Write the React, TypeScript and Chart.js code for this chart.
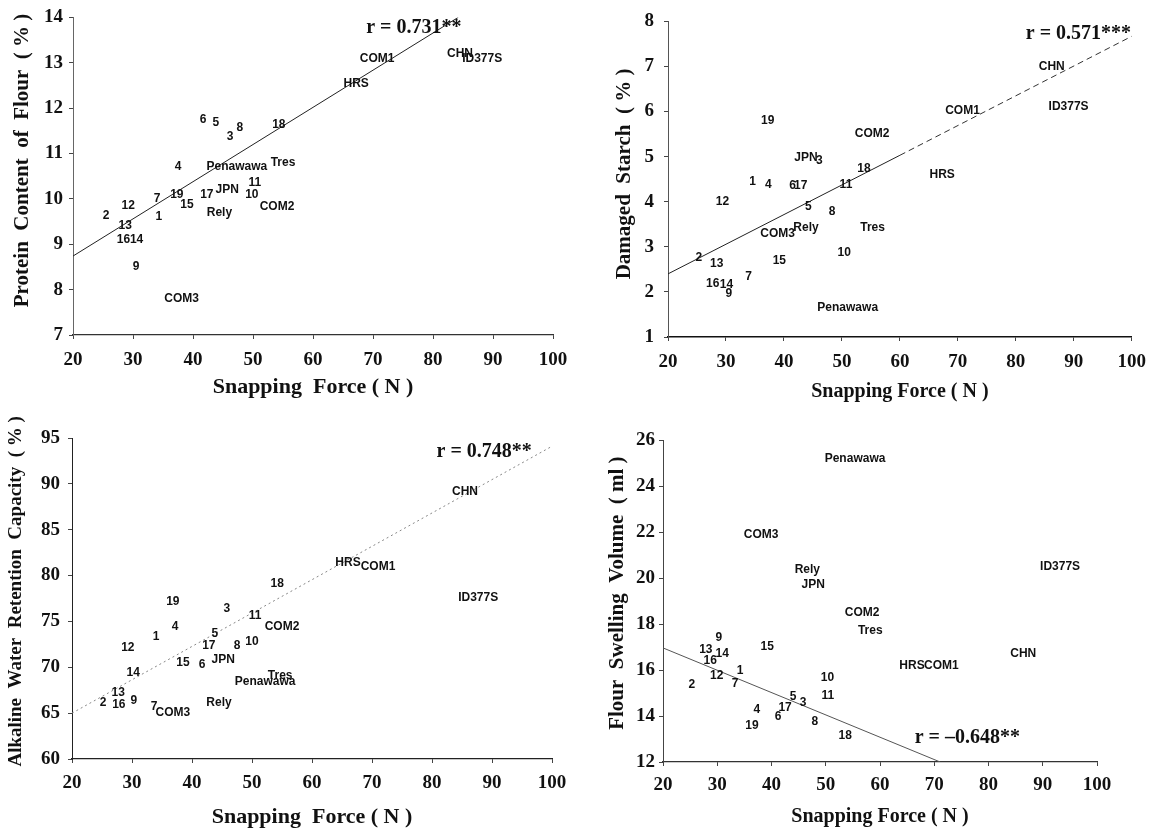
import React, { useEffect, useRef } from 'react';
import { Chart, registerables } from 'chart.js';

Chart.register(...registerables);

// ---------- data ----------
const cultivars = [
  '1', '2', '3', '4', '5', '6', '7', '8', '9', '10', '11', '12', '13', '14', '15', '16', '17', '18', '19',
  'COM1', 'COM2', 'COM3', 'CHN', 'ID377S', 'HRS', 'JPN', 'Rely', 'Tres', 'Penawawa',
];

const proteinForce = [34.3, 25.5, 46.2, 37.5, 43.8, 41.7, 34.0, 47.8, 30.5, 49.8, 50.3, 29.2, 28.7, 30.6, 39.0, 28.4, 42.3, 54.3, 37.3,
  70.7, 54.0, 38.1, 84.5, 88.2, 67.2, 45.7, 44.4, 55.0, 47.3];
const proteinValue = [9.6, 9.62, 11.36, 10.7, 11.67, 11.75, 10.0, 11.56, 8.5, 10.1, 10.35, 9.86, 9.4, 9.09, 9.88, 9.11, 10.1, 11.64, 10.1,
  13.1, 9.82, 7.8, 13.2, 13.1, 12.55, 10.2, 9.7, 10.8, 10.7];

const starchForce = [34.6, 25.3, 46.1, 37.3, 44.2, 41.5, 33.9, 48.3, 30.5, 50.4, 50.7, 29.4, 28.4, 30.1, 39.2, 27.7, 42.9, 53.8, 37.2,
  70.8, 55.2, 38.9, 86.2, 89.1, 67.3, 43.8, 43.8, 55.3, 51.0];
const starchValue = [4.44, 2.75, 4.9, 4.37, 3.89, 4.35, 2.33, 3.78, 1.96, 2.86, 4.37, 4.0, 2.62, 2.16, 2.7, 2.18, 4.35, 4.74, 5.79,
  6.03, 5.51, 3.3, 7.0, 6.1, 4.61, 4.98, 3.43, 3.43, 1.66];

const awrcForce = [34.0, 25.2, 45.8, 37.2, 43.8, 41.7, 33.7, 47.5, 30.3, 50.0, 50.5, 29.3, 27.7, 30.2, 38.5, 27.8, 42.8, 54.2, 36.8,
  71.0, 55.0, 36.8, 85.5, 87.7, 66.0, 45.2, 44.5, 54.7, 52.2];
const awrcValue = [73.3, 66.1, 76.4, 74.4, 73.7, 70.3, 65.7, 72.4, 66.4, 72.8, 75.6, 72.1, 67.2, 69.4, 70.5, 65.9, 72.4, 79.1, 77.1,
  81.0, 74.4, 65.1, 89.1, 77.6, 81.4, 70.8, 66.1, 69.1, 68.4];

const swellingForce = [34.2, 25.3, 45.8, 37.3, 44.0, 41.2, 33.3, 48.0, 30.3, 50.3, 50.4, 29.9, 27.9, 30.9, 39.2, 28.7, 42.5, 53.6, 36.4,
  71.3, 56.7, 38.1, 86.4, 93.2, 65.9, 47.7, 46.6, 58.2, 55.4];
const swellingValue = [15.96, 15.35, 14.57, 14.26, 14.83, 13.96, 15.4, 13.74, 17.4, 15.65, 14.87, 15.74, 16.9, 16.7, 17.0, 16.4, 14.35, 13.13, 13.57,
  16.2, 18.5, 21.9, 16.7, 20.5, 16.2, 19.7, 20.35, 17.7, 25.2];

// regression lines (end points)
const proteinFitX = [20, 84.2];
const proteinFitY = [8.74, 14.0];
const starchFitX = [20, 60, 100];
const starchFitY = [2.4, 5.03, 7.67];
const awrcFitX = [20, 100];
const awrcFitY = [65.0, 94.1];
const swellingFitX = [20, 71.1];
const swellingFitY = [16.96, 12.0];

const rTexts = ['r = 0.731**', 'r = 0.571***', 'r = 0.748**', 'r = \u20130.648**'];

// tick labels
const forceTicks = [20, 30, 40, 50, 60, 70, 80, 90, 100];
const proteinTicks = [7, 8, 9, 10, 11, 12, 13, 14];
const starchTicks = [1, 2, 3, 4, 5, 6, 7, 8];
const awrcTicks = [60, 65, 70, 75, 80, 85, 90, 95];
const swellingTicks = [12, 14, 16, 18, 20, 22, 24, 26];

// ---------- rendering ----------
const SERIF = '"Liberation Serif", "Times New Roman", serif';
const SANS = '"Liberation Sans", Arial, sans-serif';

const labelPlugin = {
  id: 'pointNames',
  afterDatasetsDraw(chart: any) {
    const ctx = chart.ctx;
    ctx.save();
    ctx.font = `bold 12px ${SANS}`;
    ctx.fillStyle = '#111';
    ctx.textAlign = 'center';
    ctx.textBaseline = 'middle';
    chart.data.datasets.forEach((ds: any, i: number) => {
      if (!ds.names) return;
      const meta = chart.getDatasetMeta(i);
      meta.data.forEach((el: any, j: number) => {
        ctx.fillText(ds.names[j], el.x, el.y);
      });
    });
    const note = chart.options.plugins.panelNote;
    if (note && note.text) {
      const px = chart.scales.x.getPixelForValue(note.x);
      const py = chart.scales.y.getPixelForValue(note.y);
      ctx.font = `bold 20px ${SERIF}`;
      ctx.fillText(note.text, px, py);
    }
    ctx.restore();
  },
};

type Fit = { x: number[]; y: number[]; color: string; width: number; dash: number[] };

type PanelCfg = {
  left: number; top: number; width: number; height: number;
  yAxisWidth: number; xAxisHeight: number; padTop: number; padRight: number;
  xs: number[]; ys: number[]; fits: Fit[];
  yMin: number; yMax: number; yTicks: number[];
  yTitle: string; yTitleSize: number; yTitlePad: number; yTickPad: number;
  xTitle: string; xTitleSize: number;
  xTickPad: number; xTitlePad: number;
  note: { x: number; y: number; text: string };
  xBorder: { color: string; width: number; dash: number[] };
  yBorder: { color: string; width: number; dash: number[] };
};

function Panel({ cfg }: { cfg: PanelCfg }) {
  const ref = useRef<HTMLCanvasElement | null>(null);
  useEffect(() => {
    if (!ref.current) return;
    const tickFont = { family: SERIF, size: 19, weight: 'bold' as const };
    const chart = new Chart(ref.current, {
      type: 'scatter',
      data: {
        datasets: [
          {
            data: cfg.xs.map((x, i) => ({ x, y: cfg.ys[i] })),
            pointRadius: 0,
            pointHoverRadius: 0,
            showLine: false,
            names: cultivars,
          } as any,
          ...cfg.fits.map((f) => ({
            data: f.x.map((x, i) => ({ x, y: f.y[i] })),
            showLine: true,
            borderColor: f.color,
            borderWidth: f.width,
            borderDash: f.dash,
            pointRadius: 0,
            pointHoverRadius: 0,
            fill: false,
          })),
        ],
      },
      options: {
        responsive: false,
        animation: false,
        events: [],
        layout: { padding: { top: cfg.padTop, right: cfg.padRight, left: 0, bottom: 0 } },
        plugins: {
          legend: { display: false },
          tooltip: { enabled: false },
          panelNote: cfg.note,
        } as any,
        scales: {
          x: {
            type: 'linear',
            min: 20,
            max: 100,
            afterBuildTicks: (s: any) => { s.ticks = forceTicks.map((v) => ({ value: v })); },
            afterFit: (s: any) => { s.height = cfg.xAxisHeight; },
            border: { display: true, color: cfg.xBorder.color, width: cfg.xBorder.width, dash: cfg.xBorder.dash },
            grid: { display: true, drawOnChartArea: false, drawTicks: true, tickLength: 4, color: '#444' },
            ticks: { font: tickFont, color: '#111', padding: cfg.xTickPad, maxRotation: 0, autoSkip: false },
            title: {
              display: true,
              text: cfg.xTitle,
              font: { family: SERIF, size: cfg.xTitleSize, weight: 'bold' },
              color: '#111',
              padding: { top: 0, bottom: cfg.xTitlePad },
            },
          },
          y: {
            type: 'linear',
            min: cfg.yMin,
            max: cfg.yMax,
            afterBuildTicks: (s: any) => { s.ticks = cfg.yTicks.map((v) => ({ value: v })); },
            afterFit: (s: any) => { s.width = cfg.yAxisWidth; },
            border: { display: true, color: cfg.yBorder.color, width: cfg.yBorder.width, dash: cfg.yBorder.dash },
            grid: { display: true, drawOnChartArea: false, drawTicks: true, tickLength: 4, color: '#444' },
            ticks: { font: tickFont, color: '#111', padding: cfg.yTickPad, autoSkip: false },
            title: {
              display: true,
              text: cfg.yTitle,
              font: { family: SERIF, size: cfg.yTitleSize, weight: 'bold' },
              color: '#111',
              padding: { top: cfg.yTitlePad, bottom: 0 },
            },
          },
        },
      } as any,
      plugins: [labelPlugin],
    });
    return () => chart.destroy();
  }, [cfg]);
  return (
    <canvas
      ref={ref}
      width={cfg.width}
      height={cfg.height}
      style={{ position: 'absolute', left: cfg.left, top: cfg.top, width: cfg.width, height: cfg.height }}
    />
  );
}

const panels: PanelCfg[] = [
  {
    left: 0, top: 0, width: 578, height: 415,
    yAxisWidth: 73, xAxisHeight: 80, padTop: 17, padRight: 25,
    xs: proteinForce, ys: proteinValue,
    fits: [{ x: proteinFitX, y: proteinFitY, color: '#222', width: 1, dash: [] }],
    yMin: 7, yMax: 14, yTicks: proteinTicks,
    yTitle: '      Protein  Content  of  Flour  ( % )', yTitleSize: 21, yTitlePad: 10, yTickPad: 6,
    xTitle: 'Snapping  Force ( N )', xTitleSize: 22,
    xTickPad: 10, xTitlePad: 14,
    note: { x: 76.8, y: 13.78, text: rTexts[0] },
    xBorder: { color: '#333', width: 1.2, dash: [14, 4, 3, 4] },
    yBorder: { color: '#666', width: 1, dash: [10, 3] },
  },
  {
    left: 578, top: 0, width: 578, height: 415,
    yAxisWidth: 90, xAxisHeight: 78, padTop: 17, padRight: 21,
    xs: starchForce, ys: starchValue,
    fits: [
      { x: starchFitX.slice(0, 2), y: starchFitY.slice(0, 2), color: '#222', width: 1, dash: [] },
      { x: starchFitX.slice(1), y: starchFitY.slice(1), color: '#333', width: 1, dash: [6, 4] },
    ],
    yMin: 1, yMax: 8, yTicks: starchTicks,
    yTitle: '  Damaged  Starch  ( % )', yTitleSize: 21, yTitlePad: 34, yTickPad: 10,
    xTitle: 'Snapping Force ( N )', xTitleSize: 20,
    xTickPad: 10, xTitlePad: 11,
    note: { x: 90.8, y: 7.72, text: rTexts[1] },
    xBorder: { color: '#111', width: 1.5, dash: [] },
    yBorder: { color: '#555', width: 1, dash: [6, 3] },
  },
  {
    left: 0, top: 415, width: 578, height: 416,
    yAxisWidth: 72, xAxisHeight: 72, padTop: 23, padRight: 26,
    xs: awrcForce, ys: awrcValue,
    fits: [{ x: awrcFitX, y: awrcFitY, color: '#888', width: 1, dash: [2, 3] }],
    yMin: 60, yMax: 95, yTicks: awrcTicks,
    yTitle: '   Alkaline  Water  Retention  Capacity  ( % )', yTitleSize: 19, yTitlePad: 5, yTickPad: 8,
    xTitle: 'Snapping  Force ( N )', xTitleSize: 22,
    xTickPad: 9, xTitlePad: 0,
    note: { x: 88.7, y: 93.5, text: rTexts[2] },
    xBorder: { color: '#222', width: 1.2, dash: [] },
    yBorder: { color: '#222', width: 1, dash: [20, 3] },
  },
  {
    left: 578, top: 415, width: 578, height: 416,
    yAxisWidth: 85, xAxisHeight: 69, padTop: 25, padRight: 59,
    xs: swellingForce, ys: swellingValue,
    fits: [{ x: swellingFitX, y: swellingFitY, color: '#555', width: 1, dash: [] }],
    yMin: 12, yMax: 26, yTicks: swellingTicks,
    yTitle: '   Flour  Swelling  Volume  ( ml )', yTitleSize: 21, yTitlePad: 27, yTickPad: 4,
    xTitle: 'Snapping Force ( N )', xTitleSize: 20,
    xTickPad: 8, xTitlePad: 2,
    note: { x: 76.1, y: 13.04, text: rTexts[3] },
    xBorder: { color: '#333', width: 1.2, dash: [12, 4, 3, 4] },
    yBorder: { color: '#444', width: 1, dash: [8, 4] },
  },
];

export default function App() {
  return (
    <div style={{ position: 'absolute', left: 0, top: 0, width: 1156, height: 831, background: '#fff' }}>
      {panels.map((p, i) => (
        <Panel key={i} cfg={p} />
      ))}
    </div>
  );
}
